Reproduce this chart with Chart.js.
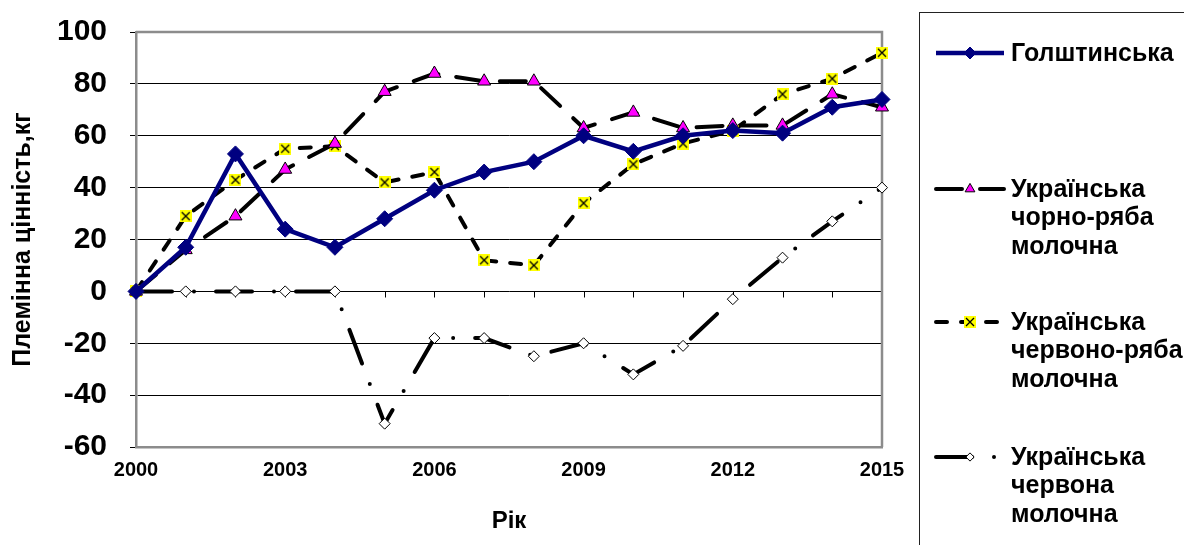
<!DOCTYPE html>
<html>
<head>
<meta charset="utf-8">
<script src="https://cdn.jsdelivr.net/npm/chart.js@4.4.1/dist/chart.umd.min.js"></script>
<style>
  body { margin: 0; background: #fff; }
  canvas { display: block; }
</style>
</head>
<body>
<canvas id="myChart" width="1184" height="545"></canvas>
<script>
// Data
var years = ['2000', '2001', '2002', '2003', '2004', '2005', '2006', '2007',
             '2008', '2009', '2010', '2011', '2012', '2013', '2014', '2015'];
var holstein   = [0, 17, 53, 24, 17, 28, 39, 46, 50, 60, 54, 60, 62, 61, 71, 74];
var blackPied  = [0, 16, 29, 47, 57, 77, 84, 81, 81, 63, 69, 63, 64, 64, 76, 71];
var redPied    = [0, 29, 43, 55, 56, 42, 46, 12, 10, 34, 49, 57, 62, 76, 82, 92];
var redDairy   = [0, 0, 0, 0, 0, -51, -18, -18, -25, -20, -32, -21, -3, 13, 27, 40];
var seriesNames = [
    ['Голштинська'],
    ['Українська', 'чорно-ряба', 'молочна'],
    ['Українська', 'червоно-ряба', 'молочна'],
    ['Українська', 'червона', 'молочна']
];
var yTicks = [100, 80, 60, 40, 20, 0, -20, -40, -60];

// yellow square with a black cross, used as marker
function crossMarker(size) {
    var c = document.createElement('canvas');
    c.width = size; c.height = size;
    var g = c.getContext('2d');
    g.fillStyle = '#ffff00';
    g.fillRect(0, 0, size, size);
    g.strokeStyle = '#000';
    g.lineWidth = 1.3;
    g.beginPath();
    g.moveTo(2, 2); g.lineTo(size - 2, size - 2);
    g.moveTo(size - 2, 2); g.lineTo(2, size - 2);
    g.stroke();
    return c;
}
var crossImg = crossMarker(12);

// frame of the plot area and small year ticks on the zero line
var plotFrame = {
    id: 'plotFrame',
    beforeDatasetsDraw: function (chart) {
        var ctx = chart.ctx, a = chart.chartArea;
        var x = chart.scales.x, y = chart.scales.y;
        ctx.save();
        ctx.strokeStyle = '#000';
        ctx.lineWidth = 1;
        var y0 = Math.round(y.getPixelForValue(0)) + 0.5;
        for (var i = 0; i < years.length; i++) {
            var px = Math.round(x.getPixelForValue(i)) + 0.5;
            ctx.beginPath();
            ctx.moveTo(px, y0);
            ctx.lineTo(px, y0 + 6);
            ctx.stroke();
        }
        ctx.strokeStyle = '#8c8c8c';
        ctx.lineWidth = 2.5;
        ctx.beginPath();
        ctx.moveTo(a.left, a.top);
        ctx.lineTo(a.right, a.top);
        ctx.lineTo(a.right, a.bottom);
        ctx.stroke();
        ctx.restore();
    }
};

// legend box on the right
var sideLegend = {
    id: 'sideLegend',
    afterDraw: function (chart) {
        var ctx = chart.ctx;
        var rows = [53, 189, 322, 457];
        ctx.save();
        ctx.strokeStyle = '#222';
        ctx.lineWidth = 1;
        ctx.strokeRect(919.5, 12.5, 300, 560);
        chart.data.datasets.forEach(function (ds, i) {
            var yy = rows[i];
            ctx.save();
            ctx.strokeStyle = ds.borderColor;
            ctx.lineWidth = ds.borderWidth;
            ctx.lineCap = ds.borderCapStyle || 'butt';
            ctx.setLineDash(ds.borderDash || []);
            ctx.beginPath();
            ctx.moveTo(936, yy);
            ctx.lineTo(1004, yy);
            ctx.stroke();
            ctx.restore();
            if (ds.pointStyle !== crossImg) {
                ctx.fillStyle = ds.pointBackgroundColor;
                ctx.strokeStyle = ds.pointBorderColor;
                ctx.lineWidth = ds.pointBorderWidth;
            }
            Chart.helpers.drawPoint(ctx, {
                pointStyle: ds.pointStyle,
                radius: ds.pointRadius * 0.75,
                borderWidth: ds.pointBorderWidth,
                rotation: 0
            }, 970, yy);
            ctx.fillStyle = '#000';
            ctx.font = 'bold 25px "Liberation Sans", Arial, sans-serif';
            ctx.textBaseline = 'middle';
            ctx.textAlign = 'left';
            seriesNames[i].forEach(function (line, k) {
                ctx.fillText(line, 1011, yy + 1 + k * 28.5);
            });
        });
        ctx.restore();
    }
};

var ctx = document.getElementById('myChart').getContext('2d');
var myChart = new Chart(ctx, {
    type: 'line',
    data: {
        labels: years,
        datasets: [{
            label: seriesNames[0].join(' '),
            data: holstein,
            borderColor: '#000080',
            borderWidth: 4.5,
            pointStyle: 'rectRot',
            pointRadius: 8,
            pointBackgroundColor: '#000080',
            pointBorderColor: '#000080',
            pointBorderWidth: 1
        }, {
            label: seriesNames[1].join(' '),
            data: blackPied,
            borderColor: '#000',
            borderWidth: 4,
            borderCapStyle: 'round',
            borderDash: [26, 18],
            pointStyle: 'triangle',
            pointRadius: 7.5,
            pointBackgroundColor: '#ff00ff',
            pointBorderColor: '#000',
            pointBorderWidth: 1
        }, {
            label: seriesNames[2].join(' '),
            data: redPied,
            borderColor: '#000',
            borderWidth: 4,
            borderCapStyle: 'round',
            borderDash: [11, 14],
            pointStyle: crossImg,
            pointRadius: 6,
            pointBackgroundColor: '#ffff00',
            pointBorderColor: '#000',
            pointBorderWidth: 1
        }, {
            label: seriesNames[3].join(' '),
            data: redDairy,
            borderColor: '#000',
            borderWidth: 4,
            borderCapStyle: 'round',
            borderDash: [36, 22, 0, 22],
            pointStyle: 'rectRot',
            pointRadius: 5.5,
            pointBackgroundColor: '#fff',
            pointBorderColor: '#000',
            pointBorderWidth: 1
        }]
    },
    options: {
        responsive: false,
        animation: false,
        tension: 0,
        layout: { padding: { left: 0, top: 32, right: 302, bottom: 0 } },
        plugins: {
            legend: { display: false },
            tooltip: { enabled: false }
        },
        scales: {
            x: {
                type: 'category',
                offset: false,
                grid: { display: false, drawTicks: false },
                border: { display: true, color: '#8c8c8c', width: 2.5 },
                ticks: {
                    autoSkip: false,
                    maxRotation: 0,
                    padding: 11,
                    color: '#000',
                    font: { family: '"Liberation Sans", Arial, sans-serif', size: 20, weight: 'bold' },
                    callback: function (v, i) {
                        return i % 3 === 0 ? years[i] : '';
                    }
                },
                title: {
                    display: true,
                    text: 'Рік',
                    color: '#000',
                    padding: { top: 0, bottom: 9 },
                    font: { family: '"Liberation Sans", Arial, sans-serif', size: 24, weight: 'bold' }
                },
                afterFit: function (s) { s.height = 98; }
            },
            y: {
                min: -60,
                max: 100,
                afterBuildTicks: function (s) {
                    s.ticks = yTicks.map(function (v) { return { value: v }; });
                },
                grid: { color: '#000', lineWidth: 1, tickLength: 6 },
                border: { color: '#8c8c8c', width: 2.5 },
                ticks: {
                    padding: 23,
                    color: '#000',
                    font: { family: '"Liberation Sans", Arial, sans-serif', size: 30, weight: 'bold' }
                },
                title: {
                    display: true,
                    text: 'Племінна цінність,кг',
                    color: '#000',
                    padding: { top: 8, bottom: 0 },
                    font: { family: '"Liberation Sans", Arial, sans-serif', size: 25, weight: 'bold' }
                },
                afterFit: function (s) {
                    s.width = 136;
                    s.paddingTop = 0;
                    s.paddingBottom = 0;
                }
            }
        }
    },
    plugins: [plotFrame, sideLegend]
});
</script>
</body>
</html>
